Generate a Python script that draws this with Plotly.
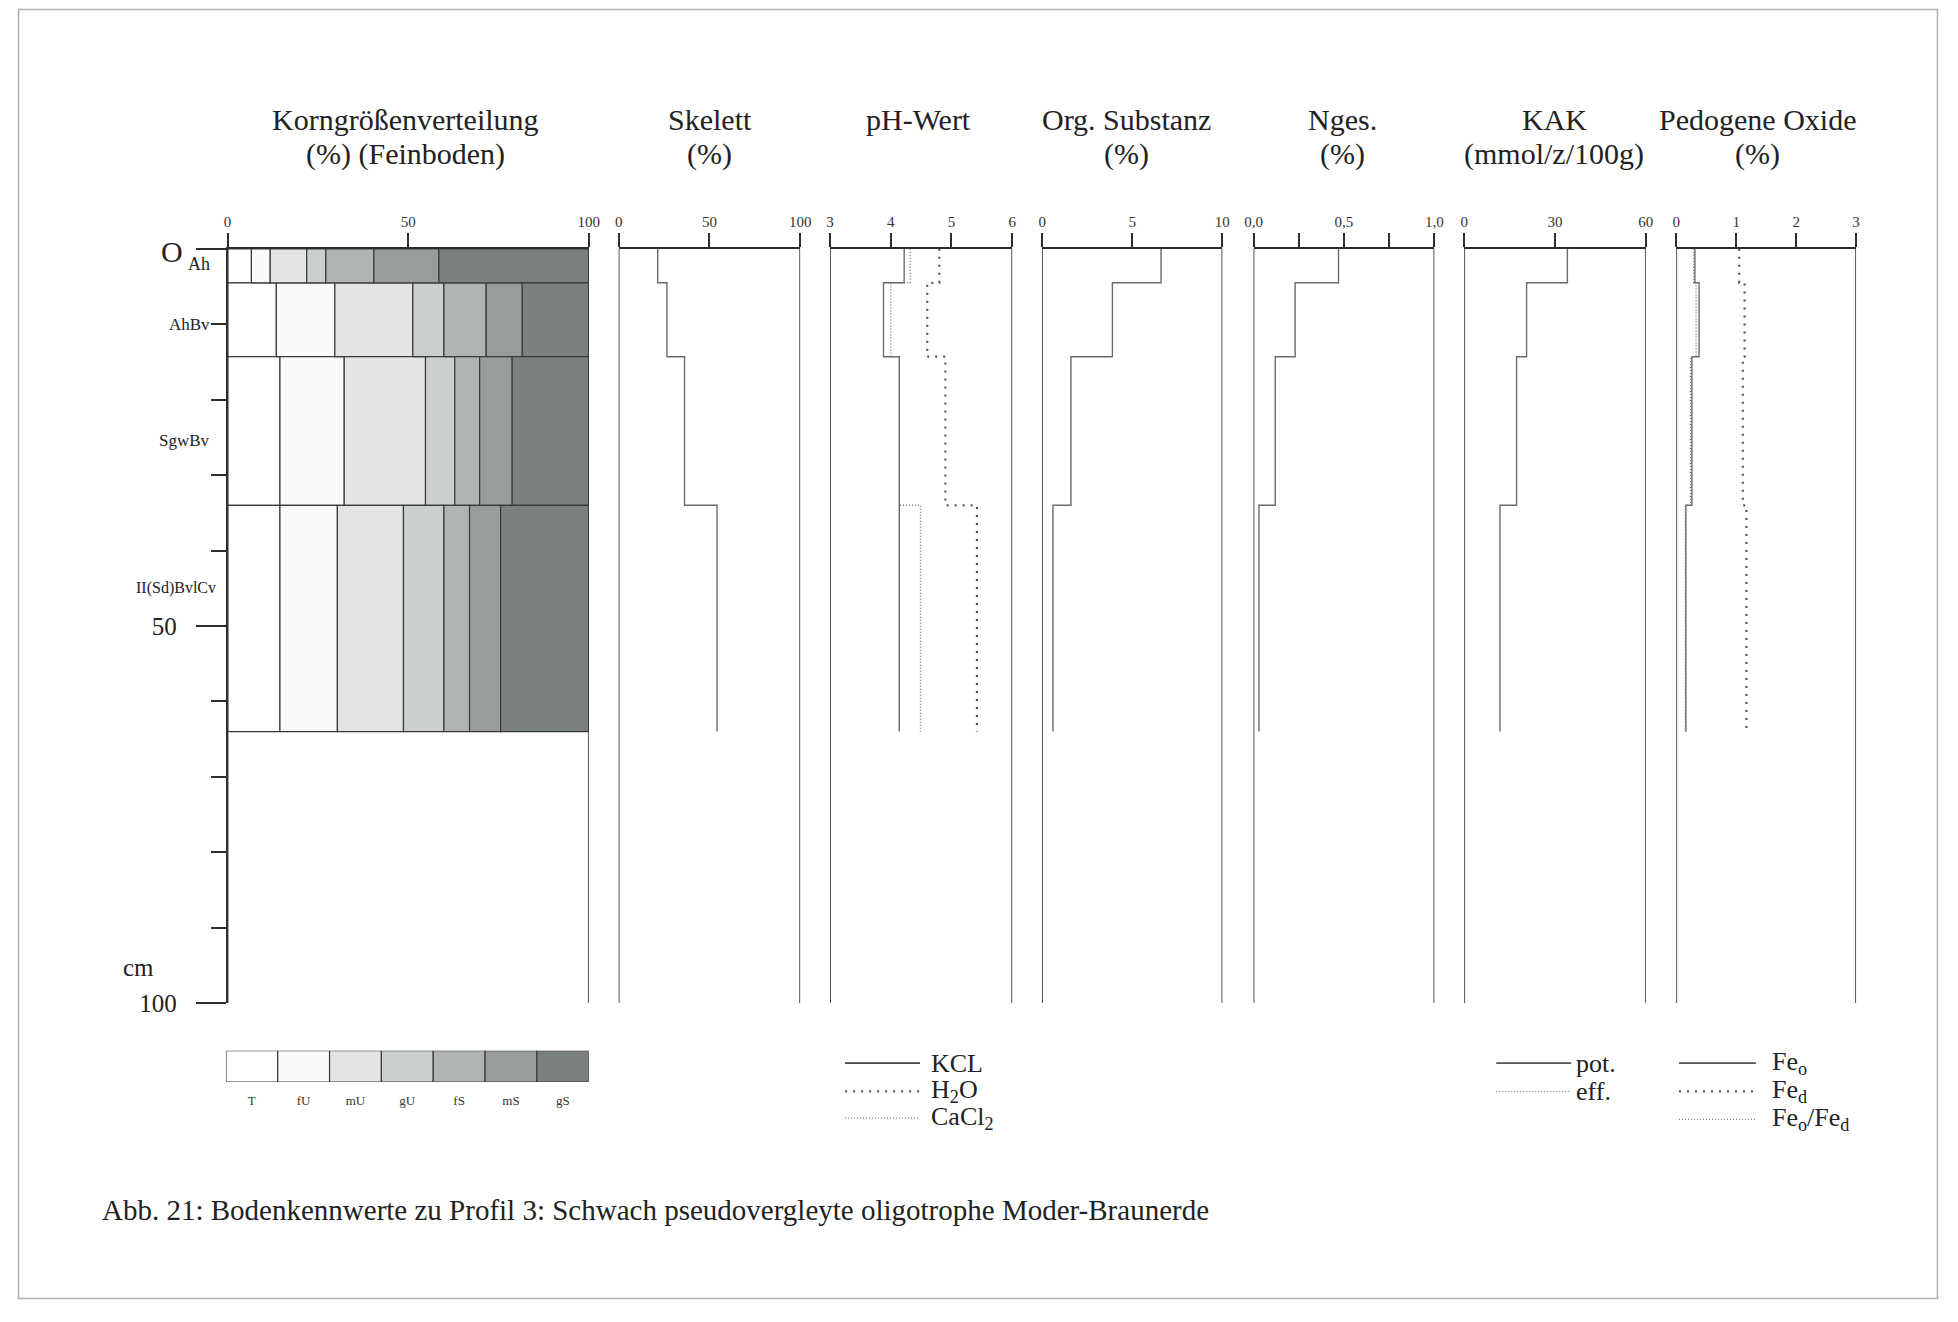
import plotly.graph_objects as go

# page is 1958x1322; the figure sits inside the default 8px body margin
PAGE_OFF = 8
W, H = 1942, 1306
# small correction for how the page is captured (measured from earlier renders)
SX, OX = 0.991, 7.9
SY, OY = 0.989, -1.0

# ---------------- data ----------------
horizon_tops = [0.0, 4.5, 14.3, 34.0]
horizon_bottoms = [4.5, 14.3, 34.0, 64.0]
horizon_names = ["Ah", "AhBv", "SgwBv", "II(Sd)BvlCv"]
horizon_label_depths = [2.0, 10.0, 25.4, 45.0]

fractions = ["T", "fU", "mU", "gU", "fS", "mS", "gS"]
frac_colors = ["#ffffff", "#fafafa", "#e2e5e3", "#cbcfcd", "#b0b4b2", "#989d9b", "#7b817e"]
T_vals = [6.6, 13.5, 14.5, 14.5]
fU_vals = [5.2, 16.2, 17.8, 15.9]
mU_vals = [10.1, 21.6, 22.5, 18.3]
gU_vals = [5.3, 8.6, 8.1, 11.2]
fS_vals = [13.3, 11.7, 6.9, 7.1]
mS_vals = [18.0, 10.0, 9.0, 8.6]
gS_vals = [41.5, 18.4, 21.2, 24.4]

skelett = [21.5, 26.6, 36.3, 54.2]
ph_kcl = [4.22, 3.88, 4.14, 4.14]
ph_h2o = [4.80, 4.60, 4.90, 5.42]
ph_cacl2 = [4.32, 4.00, 4.14, 4.49]
org_sub = [6.6, 3.9, 1.6, 0.6]
n_ges = [0.47, 0.23, 0.12, 0.03]
kak_pot = [34.1, 20.6, 17.3, 11.8]
fe_o = [0.31, 0.38, 0.26, 0.16]
fe_d = [1.05, 1.14, 1.11, 1.17]
fe_ratio = [0.29, 0.33, 0.24, 0.15]

panel_titles = [("Korngrößenverteilung", "(%) (Feinboden)"), ("Skelett", "(%)"), ("pH-Wert", ""),
                ("Org. Substanz", "(%)"), ("Nges.", "(%)"), ("KAK", "(mmol/z/100g)"),
                ("Pedogene Oxide", "(%)")]
panel_ranges = [[0, 100], [0, 100], [3, 6], [0, 10], [0, 1], [0, 60], [0, 3]]
panel_tickvals = [[0, 50, 100], [0, 50, 100], [3, 4, 5, 6], [0, 5, 10],
                  [0, 0.25, 0.5, 0.75, 1.0], [0, 30, 60], [0, 1, 2, 3]]
panel_ticktext = [["0", "50", "100"], ["0", "50", "100"], ["3", "4", "5", "6"], ["0", "5", "10"],
                  ["0,0", "", "0,5", "", "1,0"], ["0", "30", "60"], ["0", "1", "2", "3"]]
depth_tickvals = [0, 50, 100]
depth_ticktext = ["", "50", "100"]

# ---------------- layout geometry (reference pixels) ----------------
panel_px = [(226.7, 588.3), (618.3, 800.0), (830.0, 1012.3), (1042.3, 1222.7),
            (1254.0, 1435.0), (1465.0, 1646.7), (1677.3, 1857.3)]
title_cx = [404.6, 709.3, 919.0, 1127.0, 1343.0, 1555.0, 1759.0]
y_top_px, y_bot_px = 247.7, 1001.7
FONT = "Liberation Serif, Times New Roman, serif"
AX = "#2e2e2e"
LN = "#6a6a6a"

def px(x):
    xp = (x - OX) / SX
    return min(max((xp - PAGE_OFF) / W, 0), 1)

def py(y):
    yp = (y - OY) / SY
    return min(max(1 - (yp - PAGE_OFF) / H, 0), 1)

fig = go.Figure()

# grain size stacked bars
mids = [(a + b) / 2 for a, b in zip(horizon_tops, horizon_bottoms)]
thick = [b - a for a, b in zip(horizon_tops, horizon_bottoms)]
all_vals = [T_vals, fU_vals, mU_vals, gU_vals, fS_vals, mS_vals, gS_vals]
base = [0.0] * len(mids)
for name, vals, col in zip(fractions, all_vals, frac_colors):
    fig.add_trace(go.Bar(orientation="h", y=mids, x=vals, base=list(base), width=thick,
                         marker=dict(color=col, line=dict(color="#3a3a3a", width=1.2)),
                         name=name, xaxis="x", yaxis="y", hoverinfo="skip"))
    base = [b + v for b, v in zip(base, vals)]

def step_trace(vals, axis, dash="solid", width=1.4, color=LN):
    xs = list(vals) + [vals[-1]]
    ys = list(horizon_tops) + [horizon_bottoms[-1]]
    return go.Scatter(x=xs, y=ys, mode="lines", line_shape="vh",
                      line=dict(color=color, width=width, dash=dash),
                      xaxis=axis, yaxis="y", hoverinfo="skip")

fig.add_trace(step_trace(skelett, "x2"))
fig.add_trace(step_trace(ph_kcl, "x3"))
fig.add_trace(step_trace(ph_cacl2, "x3", dash="1px,2px", width=1.4, color="#777"))
fig.add_trace(step_trace(ph_h2o, "x3", dash="2px,6px", width=2.2, color="#555"))
fig.add_trace(step_trace(org_sub, "x4"))
fig.add_trace(step_trace(n_ges, "x5"))
fig.add_trace(step_trace(kak_pot, "x6"))
fig.add_trace(step_trace(fe_o, "x7"))
fig.add_trace(step_trace(fe_ratio, "x7", dash="1px,2px", width=1.4, color="#777"))
fig.add_trace(step_trace(fe_d, "x7", dash="2px,6px", width=2.2, color="#555"))

# grain-size legend bar
fig.add_trace(go.Bar(x=fractions, y=[1] * len(fractions), width=1,
                     marker=dict(color=frac_colors, line=dict(color="#3a3a3a", width=1.2)),
                     xaxis="x8", yaxis="y8", hoverinfo="skip"))

layout = dict(width=W, height=H, margin=dict(l=0, r=0, t=0, b=0),
              paper_bgcolor="white", plot_bgcolor="rgba(0,0,0,0)", showlegend=False,
              barmode="overlay", font=dict(family=FONT, color="#222"))

layout["yaxis"] = dict(domain=[py(y_bot_px), py(y_top_px)], range=[100, 0], anchor="x",
                       showline=True, linecolor=AX, linewidth=1.6, showgrid=False, zeroline=False,
                       ticks="outside", ticklen=30, tickwidth=1.6, tickcolor=AX,
                       tickvals=depth_tickvals, ticktext=depth_ticktext,
                       tickfont=dict(size=25, family=FONT, color="#222"), ticklabelstandoff=14,
                       minor=dict(dtick=10, tick0=0, ticks="outside", ticklen=15,
                                  tickwidth=1.6, tickcolor=AX))

shapes = []
annotations = []

def note(text, x, y, size, xanchor="center", yref="paper"):
    annotations.append(dict(text=text, x=px(x), y=(py(y) if yref == "paper" else y),
                            xref="paper", yref=yref, xanchor=xanchor, yanchor="middle",
                            showarrow=False, font=dict(size=size, family=FONT, color="#222")))

for i, ((x0, x1), rng, tv, tt) in enumerate(zip(panel_px, panel_ranges, panel_tickvals, panel_ticktext)):
    key = "xaxis" if i == 0 else f"xaxis{i + 1}"
    xref = "x" if i == 0 else f"x{i + 1}"
    layout[key] = dict(domain=[px(x0), px(x1)], range=rng, anchor="y", side="top",
                       showline=True, linecolor=AX, linewidth=1.6, showgrid=False, zeroline=False,
                       ticks="outside", ticklen=14, tickwidth=1.6, tickcolor=AX,
                       tickvals=tv, ticktext=tt, tickfont=dict(size=15, family=FONT, color="#333"))
    for xv in rng:
        shapes.append(dict(type="line", xref=xref, yref="y", x0=xv, x1=xv, y0=0, y1=100,
                           line=dict(color=AX, width=1.6), layer="above"))
    t1, t2 = panel_titles[i]
    note(t1, title_cx[i], 118.5, 30)
    if t2:
        note(t2, title_cx[i], 152.5, 30)

# legend axes for grain size
layout["xaxis8"] = dict(domain=[px(225), px(588.3)], range=[-0.5, 6.5], anchor="y8",
                        showline=False, showgrid=False, zeroline=False, ticks="",
                        ticklabelstandoff=9,
                        tickfont=dict(size=13, family=FONT, color="#333"), type="category")
layout["yaxis8"] = dict(domain=[py(1080.7), py(1049.3)], range=[0, 1], anchor="x8",
                        visible=False)

# horizon labels
note("O", 184, 250, 30, xanchor="right")
label_sizes = [18, 17, 17, 16]
label_x = [211, 211, 211, 217]
for name, d, sz, lx in zip(horizon_names, horizon_label_depths, label_sizes, label_x):
    note(name, lx, d, sz, xanchor="right", yref="y")
note("cm", 137, 966, 25)

# line legends
def legend_item(x0, x1, y, dash, width, color, text, tx):
    shapes.append(dict(type="line", xref="paper", yref="paper", x0=px(x0), x1=px(x1),
                       y0=py(y), y1=py(y), line=dict(color=color, width=width, dash=dash)))
    note(text, tx, y, 26, xanchor="left")

legend_item(845, 920, 1061.7, "solid", 1.6, "#444", "KCL", 929)
legend_item(845, 920, 1090, "2px,6px", 2.2, "#555", "H<sub>2</sub>O", 929)
legend_item(845, 920, 1116.7, "1px,2px", 1.4, "#777", "CaCl<sub>2</sub>", 929)
legend_item(1497, 1572, 1061.7, "solid", 1.6, "#555", "pot.", 1575)
legend_item(1497, 1572, 1090, "1px,2px", 1.4, "#888", "eff.", 1575)
legend_item(1680, 1757, 1061.7, "solid", 1.6, "#555", "Fe<sub>o</sub>", 1771)
legend_item(1680, 1757, 1090, "2px,6px", 2.2, "#555", "Fe<sub>d</sub>", 1771)
legend_item(1680, 1757, 1118, "1px,2px", 1.4, "#888", "Fe<sub>o</sub>/Fe<sub>d</sub>", 1771)

# caption
note("Abb. 21: Bodenkennwerte zu Profil 3: Schwach pseudovergleyte oligotrophe Moder-Braunerde",
     99, 1209, 29, xanchor="left")

# frame
shapes.append(dict(type="rect", xref="paper", yref="paper", x0=0.0008, x1=0.9992,
                   y0=0.0012, y1=0.9988, line=dict(color="#b0b0b0", width=1.5)))

layout["shapes"] = shapes
layout["annotations"] = annotations
fig.update_layout(**layout)
fig.write_html("out.html", config={"displayModeBar": False})
